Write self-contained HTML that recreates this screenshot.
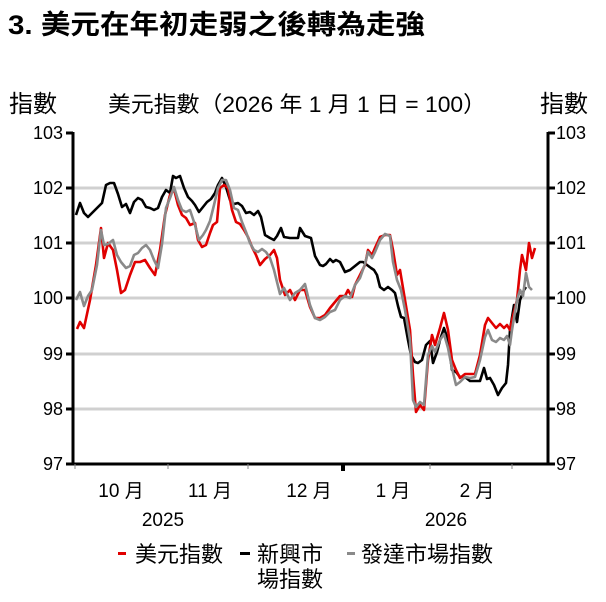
<!DOCTYPE html><html><head><meta charset="utf-8"><style>
body{margin:0;background:#fff;}
svg text{font-family:"Liberation Sans","Noto Sans CJK TC",sans-serif;fill:#000;}
</style></head><body>
<svg width="606" height="597" viewBox="0 0 606 597" xmlns="http://www.w3.org/2000/svg">
<text x="8" y="34" font-size="27" font-weight="bold" textLength="417" lengthAdjust="spacingAndGlyphs">3. 美元在年初走弱之後轉為走強</text>
<text x="9" y="112" font-size="24">指數</text>
<text x="108" y="112" font-size="22" textLength="378" lengthAdjust="spacingAndGlyphs">美元指數（2026 年 1 月 1 日 = 100）</text>
<text x="540" y="112" font-size="24">指數</text>
<g stroke="#d0d0d0" stroke-width="3">
<line x1="74" x2="547" y1="188" y2="188"/><line x1="74" x2="547" y1="243" y2="243"/><line x1="74" x2="547" y1="298" y2="298"/><line x1="74" x2="547" y1="354" y2="354"/><line x1="74" x2="547" y1="409" y2="409"/>
</g>
<g font-size="18" text-anchor="end">
<text x="63" y="139">103</text><text x="63" y="194">102</text><text x="63" y="249">101</text><text x="63" y="304">100</text><text x="63" y="360">99</text><text x="63" y="415">98</text><text x="63" y="470">97</text>
</g>
<g font-size="18">
<text x="556" y="139">103</text><text x="556" y="194">102</text><text x="556" y="249">101</text><text x="556" y="304">100</text><text x="556" y="360">99</text><text x="556" y="415">98</text><text x="556" y="470">97</text>
</g>
<g stroke="#000" stroke-width="3" fill="none">
<line x1="73" y1="132" x2="73" y2="465"/><line x1="548" y1="132" x2="548" y2="465"/><line x1="71" y1="464" x2="550" y2="464"/>
<line x1="66" y1="133" x2="73" y2="133"/><line x1="66" y1="188" x2="73" y2="188"/><line x1="66" y1="243" x2="73" y2="243"/><line x1="66" y1="298" x2="73" y2="298"/><line x1="66" y1="354" x2="73" y2="354"/><line x1="66" y1="409" x2="73" y2="409"/><line x1="66" y1="464" x2="73" y2="464"/>
<line x1="548" y1="133" x2="555" y2="133"/><line x1="548" y1="188" x2="555" y2="188"/><line x1="548" y1="243" x2="555" y2="243"/><line x1="548" y1="298" x2="555" y2="298"/><line x1="548" y1="354" x2="555" y2="354"/><line x1="548" y1="409" x2="555" y2="409"/><line x1="548" y1="464" x2="555" y2="464"/>
<line x1="343" y1="464" x2="343" y2="471" stroke-width="4"/>
</g>
<g stroke="#888" stroke-width="1"><line x1="75" y1="464" x2="75" y2="469"/><line x1="168" y1="464" x2="168" y2="469"/><line x1="248" y1="464" x2="248" y2="469"/><line x1="430" y1="464" x2="430" y2="469"/><line x1="512" y1="464" x2="512" y2="469"/></g>
<g fill="none" stroke-width="2.6" stroke-linejoin="round">
<polyline stroke="#000" points="76,215 80,203 84,213 88,217 92,213 97,208 102,203 106,185 110,183 114,183 118,194 122,207 126,204 130,213 134,202 138,198 142,200 146,207 150,208 154,210 158,208 162,197 166,190 170,193 173,176 176,178 180,176 184,188 188,197 192,201 195,205 199,212 203,207 207,202 211,199 215,193 218,185 222,178 226,187 230,200 234,204 238,203 242,206 246,213 250,212 254,215 258,211 261,217 265,235 270,238 274,240 277,236 281,228 284,237 290,238 298,238 300,228 305,236 311,238 315,256 320,265 323,266 326,264 330,259 333,262 336,260 340,262 345,272 350,270 355,266 360,262 363,262 367,265 371,268 374,270 377,275 380,287 384,290 388,287 392,290 395,293 398,306 401,317 404,318 408,340 411,355 415,362 418,363 422,360 426,345 430,341 433,363 437,352 440,340 444,328 448,340 452,370 456,372 460,377 465,377 470,381 475,381 480,381 484,368 487,379 490,378 494,385 498,395 502,388 506,383 508,365 510,330 514,305 517,322 520,300 524,290 526,287"/>
<polyline stroke="#e00000" points="77,329 80,322 84,328 90,300 96,265 101,228 104,258 108,243 113,250 117,270 121,293 125,290 130,275 135,262 140,262 145,260 150,268 155,275 160,250 165,215 170,195 174,189 178,205 182,215 186,218 190,225 195,223 198,240 202,247 206,245 210,233 213,225 217,222 220,188 224,185 228,188 232,210 236,222 240,224 244,230 248,237 252,247 256,255 260,265 265,259 270,255 274,250 277,258 280,280 285,295 290,290 295,300 300,290 305,290 310,307 315,318 320,318 325,315 330,308 335,302 340,296 345,296 348,290 352,297 355,285 360,275 365,265 368,250 372,255 375,248 380,237 385,235 390,235 393,250 397,275 400,270 405,300 410,330 413,375 416,412 420,405 424,410 428,360 432,335 435,345 440,328 444,313 448,330 452,360 456,370 460,378 465,374 470,374 475,374 480,355 485,325 488,318 492,323 496,328 500,324 504,328 507,325 510,330 512,320 517,300 520,270 522,255 526,270 529,243 532,258 535,248"/>
<polyline stroke="#8a8a8a" points="76,300 80,292 84,306 88,296 92,290 97,265 101,230 104,245 108,244 113,240 117,255 121,262 126,268 130,266 134,255 138,253 142,248 146,245 150,250 154,260 158,268 162,244 166,208 170,198 174,187 178,200 182,210 186,212 190,210 195,225 199,240 203,235 206,230 210,221 214,205 218,188 222,180 226,180 230,190 234,208 238,210 242,222 246,232 250,243 254,250 258,252 262,249 266,252 270,258 274,270 280,294 284,288 290,300 295,293 300,290 305,284 310,305 315,318 320,320 325,317 330,312 335,310 340,300 345,296 350,298 355,285 360,278 365,264 368,252 372,258 375,252 380,240 385,234 390,236 393,262 397,280 401,290 405,310 410,340 413,400 416,407 420,402 424,405 428,355 432,346 435,352 440,340 444,334 448,348 452,368 456,385 460,382 465,377 470,378 475,377 480,360 485,337 488,330 492,340 496,342 500,338 504,340 507,336 510,345 512,330 517,300 520,290 523,296 526,273 529,287 532,290"/>
</g>
<g font-size="19" text-anchor="middle">
<text x="121" y="497">10 月</text><text x="210" y="497">11 月</text><text x="309" y="497">12 月</text><text x="393" y="497">1 月</text><text x="477" y="497">2 月</text>
<text x="163" y="526">2025</text><text x="446" y="526">2026</text>
</g>
<g font-size="22">
<rect x="118" y="552" width="8" height="3" fill="#e00000"/><text x="135" y="562">美元指數</text>
<rect x="240" y="552" width="10" height="3" fill="#000"/><text x="257" y="562">新興市</text><text x="257" y="587">場指數</text>
<rect x="347" y="552" width="8" height="3" fill="#8a8a8a"/><text x="361" y="562">發達市場指數</text>
</g>
</svg>
</body></html>
